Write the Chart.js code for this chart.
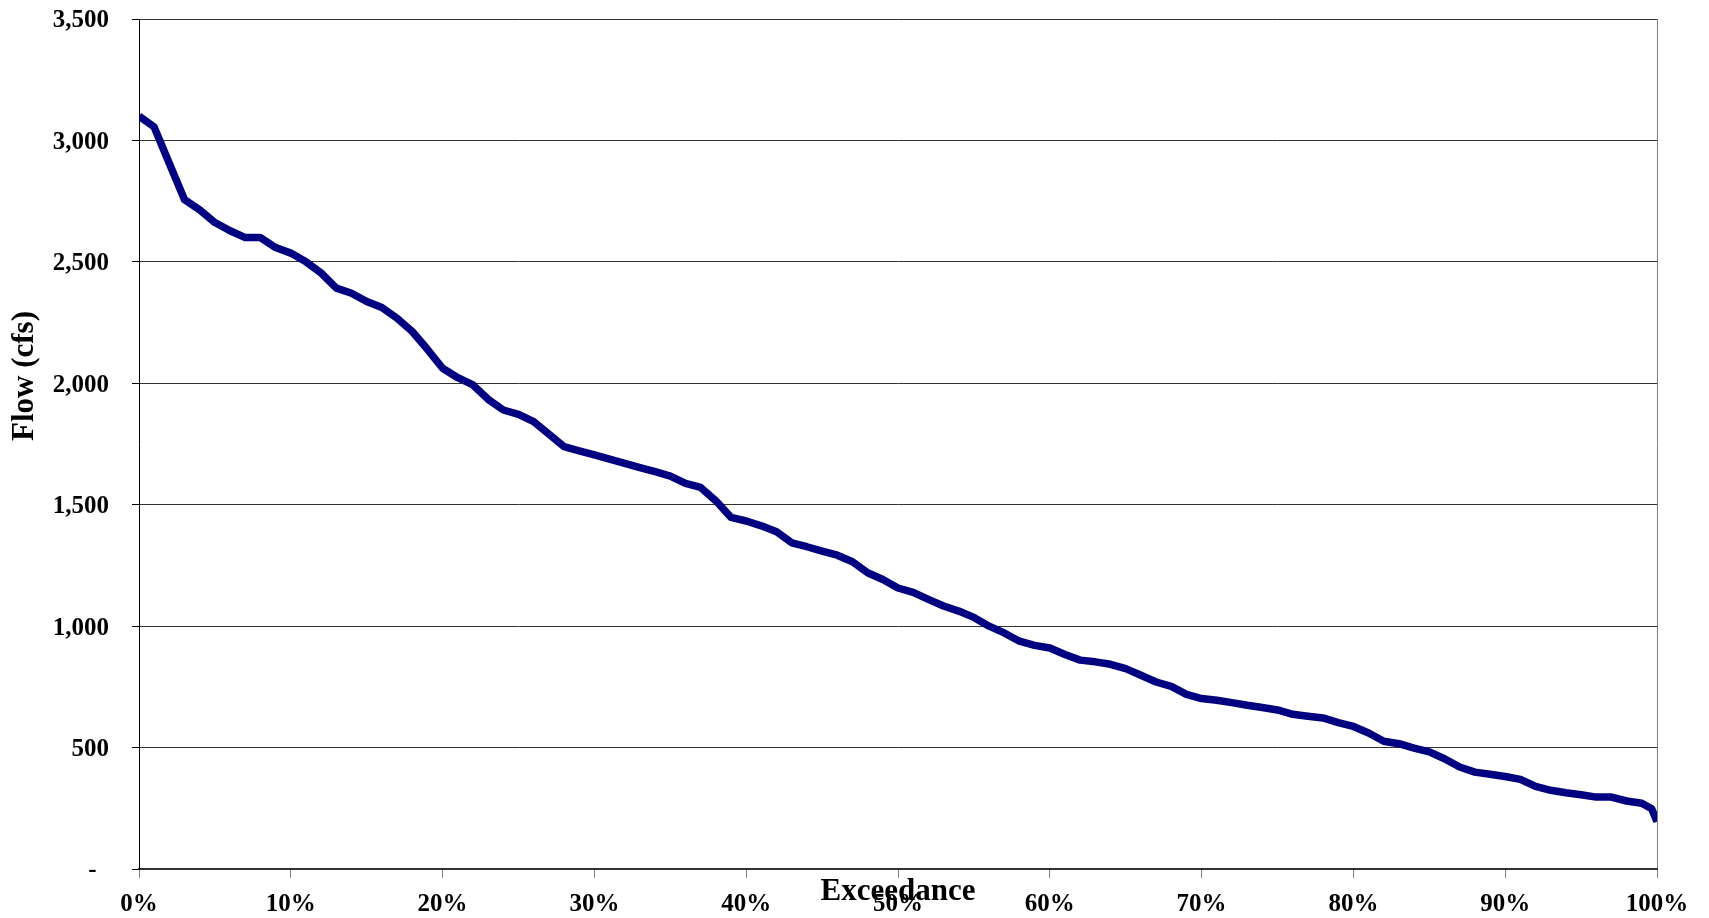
<!DOCTYPE html>
<html>
<head>
<meta charset="utf-8">
<title>Flow Duration Curve</title>
<script src="https://cdn.jsdelivr.net/npm/chart.js@4.4.1/dist/chart.umd.min.js"></script>
<style>
  html, body { margin: 0; padding: 0; background: #fff; }
  canvas { display: block; }
</style>
</head>
<body>
<canvas id="flowChart" width="1709" height="918"></canvas>
<script>
// exceedance (%) and flow (cfs)
const exceedance = [
  0, 1, 2, 3, 4, 5, 6, 7, 8, 9,
  10, 11, 12, 13, 14, 15, 16, 17, 18, 19,
  20, 21, 22, 23, 24, 25, 26, 27, 28, 29,
  30, 31, 32, 33, 34, 35, 36, 37, 38, 39,
  40, 41, 42, 43, 44, 45, 46, 47, 48, 49,
  50, 51, 52, 53, 54, 55, 56, 57, 58, 59,
  60, 61, 62, 63, 64, 65, 66, 67, 68, 69,
  70, 71, 72, 73, 74, 75, 76, 77, 78, 79,
  80, 81, 82, 83, 84, 85, 86, 87, 88, 89,
  90, 91, 92, 93, 94, 95, 96, 97, 98, 99,
  99.65, 100
];
const flow = [
  3100, 3055, 2905, 2756, 2714, 2662, 2628, 2600, 2600, 2559,
  2536, 2500, 2454, 2392, 2371, 2337, 2312, 2268, 2213, 2140,
  2062, 2023, 1993, 1934, 1890, 1872, 1842, 1791, 1739, 1722,
  1705, 1688, 1670, 1653, 1636, 1618, 1588, 1571, 1516, 1448,
  1433, 1413, 1389, 1343, 1327, 1309, 1292, 1265, 1220, 1192,
  1157, 1139, 1110, 1083, 1062, 1036, 1000, 972, 938, 921,
  910, 883, 860, 853, 843, 825, 798, 770, 752, 719,
  702, 695, 685, 674, 665, 655, 637, 629, 622, 603,
  587, 560, 526, 516, 498, 482, 454, 420, 399, 390,
  381, 369, 340, 324, 314, 306, 296, 296, 280, 271,
  248, 195
];
const xTicks = [0, 10, 20, 30, 40, 50, 60, 70, 80, 90, 100];
const yTicks = [0, 500, 1000, 1500, 2000, 2500, 3000, 3500];
const xTitle = 'Exceedance';
const yTitle = 'Flow (cfs)';

const serif = '"Liberation Serif", "Times New Roman", serif';

// axis titles drawn by hand: Excel put them where Chart.js won't
const axisTitles = {
    id: 'axisTitles',
    afterDraw(chart) {
        const { ctx, chartArea } = chart;
        ctx.save();
        ctx.fillStyle = '#000';
        ctx.font = 'bold 31px ' + serif;
        ctx.textAlign = 'center';
        ctx.textBaseline = 'alphabetic';
        ctx.fillText(xTitle, (chartArea.left + chartArea.right) / 2, 900);
        ctx.translate(25, 376);
        ctx.rotate(-Math.PI / 2);
        ctx.textBaseline = 'middle';
        ctx.fillText(yTitle, 0, 0);
        ctx.restore();
    }
};

const ctx = document.getElementById('flowChart').getContext('2d');
const flowChart = new Chart(ctx, {
    type: 'line',
    data: {
        datasets: [{
            data: exceedance.map((x, i) => ({ x: x, y: flow[i] })),
            borderColor: '#000080',
            borderWidth: 7.5,
            borderJoinStyle: 'round',
            pointRadius: 0,
            tension: 0,
            fill: false,
            clip: 0
        }]
    },
    options: {
        responsive: false,
        animation: false,
        devicePixelRatio: 1,
        layout: { padding: { top: 19, right: 52, bottom: 0, left: 0 } },
        plugins: {
            legend: { display: false },
            tooltip: { enabled: false }
        },
        scales: {
            x: {
                type: 'linear',
                min: 0,
                max: 100,
                afterBuildTicks: (s) => { s.ticks = xTicks.map(v => ({ value: v })); },
                afterFit: (s) => { s.height = 49; s.paddingLeft = 0; s.paddingRight = 0; },
                ticks: {
                    color: '#000',
                    font: { family: serif, size: 25, weight: 'bold' },
                    padding: 12,
                    maxRotation: 0,
                    callback: (v) => v + '%'
                },
                grid: {
                    color: (c) => (c.tick && c.tick.value === 100) ? '#808080' : 'rgba(0,0,0,0)',
                    tickColor: '#808080',
                    tickLength: 9,
                    lineWidth: 1
                },
                border: { color: '#333', width: 2 }
            },
            y: {
                min: 0,
                max: 3500,
                afterBuildTicks: (s) => { s.ticks = yTicks.map(v => ({ value: v })); },
                afterFit: (s) => { s.width = 139; s.paddingTop = 0; s.paddingBottom = 0; },
                ticks: {
                    color: '#000',
                    font: { family: serif, size: 25, weight: 'bold' },
                    padding: 23,
                    labelOffset: 2,
                    callback: (v) => v === 0 ? '-  ' : v.toLocaleString('en-US')
                },
                grid: {
                    color: '#333',
                    tickColor: '#000',
                    tickLength: 7,
                    lineWidth: 1
                },
                border: { color: '#000', width: 1 }
            }
        }
    },
    plugins: [axisTitles]
});
</script>
</body>
</html>
